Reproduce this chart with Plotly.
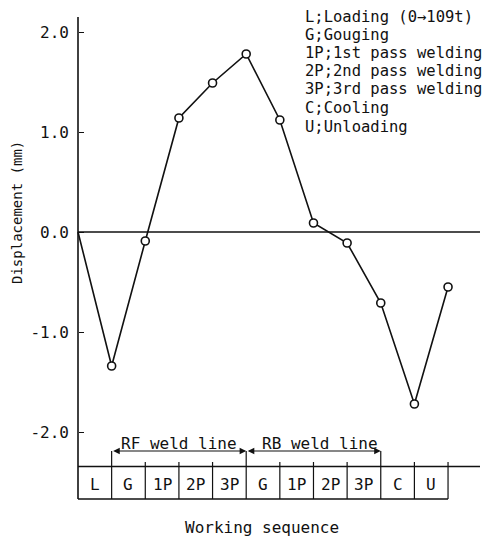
import plotly.graph_objects as go

# ---------------- data ----------------
stages = ["L", "G", "1P", "2P", "3P", "G", "1P", "2P", "3P", "C", "U"]
displacement = [0.0, -1.34, -0.09, 1.14, 1.49, 1.78, 1.12, 0.09, -0.11, -0.71, -1.72, -0.55]
ytick_vals = [-2.0, -1.0, 0.0, 1.0, 2.0]
ytick_text = ["-2.0", "-1.0", "0.0", "1.0", "2.0"]
legend_lines = [
    "L;Loading (0→109t)",
    "G;Gouging",
    "1P;1st pass welding",
    "2P;2nd pass welding",
    "3P;3rd pass welding",
    "C;Cooling",
    "U;Unloading",
]
weld_lines = ["RF weld line", "RB weld line"]
weld_spans = [(1, 5), (5, 9)]

boundaries = list(range(len(stages) + 1))

# ---------------- layout geometry ----------------
W, H = 497, 541
ML, MR, MT, MB = 68, 7, 10, 30
AX_PX = 78          # pixel of x = 0
ZERO_PX = 232       # pixel of y = 0
XS = 33.64          # px per stage
YS = 100.0          # px per mm
plot_w = W - ML - MR
plot_h = H - MT - MB
x_min = -(AX_PX - ML) / XS
x_max = (W - MR - AX_PX) / XS
y_max = (ZERO_PX - MT) / YS
y_min = (ZERO_PX - (H - MB)) / YS


def xd(px):
    return (px - AX_PX) / XS


def yd(py):
    return (ZERO_PX - py) / YS


FONT = "DejaVu Sans Mono"
INK = "#111111"

fig = go.Figure()
fig.add_trace(go.Scatter(
    x=boundaries, y=displacement, mode="lines",
    line=dict(color=INK, width=1.6), hoverinfo="skip", showlegend=False))
fig.add_trace(go.Scatter(
    x=boundaries[1:], y=displacement[1:], mode="markers",
    marker=dict(symbol="circle", size=8, color="white",
                line=dict(color=INK, width=1.6)),
    showlegend=False))

shapes = []
y_top_axis = yd(17)
y_table_top = yd(466.5)
y_table_bot = yd(499)
y_tick_top = yd(462)
y_bracket = yd(451)
x_right = xd(480)

# y axis line
shapes.append(dict(type="line", x0=0, x1=0, y0=y_top_axis, y1=y_table_bot,
                   line=dict(color=INK, width=1.6)))
# zero line
shapes.append(dict(type="line", x0=0, x1=x_right, y0=0, y1=0,
                   line=dict(color=INK, width=1.6)))
# table top and bottom lines
shapes.append(dict(type="line", x0=0, x1=x_right, y0=y_table_top, y1=y_table_top,
                   line=dict(color=INK, width=1.4)))
shapes.append(dict(type="line", x0=0, x1=boundaries[-1], y0=y_table_bot, y1=y_table_bot,
                   line=dict(color=INK, width=1.4)))
bracket_ends = set(b for span in weld_spans for b in span)
for b in boundaries[1:]:
    top = y_bracket if b in bracket_ends else y_tick_top
    shapes.append(dict(type="line", x0=b, x1=b, y0=top, y1=y_table_bot,
                       line=dict(color=INK, width=1.2)))

annotations = []
# weld line brackets
for (a, b), label, dx in zip(weld_spans, weld_lines, [0.0, 0.2]):
    annotations.append(dict(x=b, y=y_bracket, ax=a, ay=y_bracket, xref="x", yref="y",
                            axref="x", ayref="y", text="", showarrow=True,
                            arrowside="end+start", arrowhead=2, arrowsize=1.2,
                            arrowwidth=1.1, arrowcolor=INK, standoff=0, startstandoff=0))
    annotations.append(dict(x=(a + b) / 2 + dx, y=yd(443), xref="x", yref="y",
                            text=label, showarrow=False, xanchor="center", yanchor="middle",
                            font=dict(family=FONT, size=16, color=INK)))
# table cell labels
for i, s in enumerate(stages):
    annotations.append(dict(x=i + 0.5, y=yd(484), xref="x", yref="y", text=s,
                            showarrow=False, xanchor="center", yanchor="middle",
                            font=dict(family=FONT, size=16, color=INK)))
# legend text
legend_y_px = [17, 35, 53, 71, 89, 108, 127]
for line, py in zip(legend_lines, legend_y_px):
    annotations.append(dict(x=xd(304), y=yd(py), xref="x", yref="y", text=line,
                            showarrow=False, xanchor="left", yanchor="middle",
                            borderpad=0,
                            font=dict(family=FONT, size=15.5, color=INK)))
# axis titles
annotations.append(dict(x=(17 - ML) / plot_w, y=(H - MB - 213) / plot_h, xref="paper", yref="paper",
                        text="Displacement (mm)", textangle=-90, showarrow=False,
                        xanchor="center", yanchor="middle",
                        font=dict(family=FONT, size=14, color=INK)))
annotations.append(dict(x=(262 - ML) / plot_w, y=(H - MB - 527) / plot_h, xref="paper", yref="paper",
                        text="Working sequence", showarrow=False,
                        xanchor="center", yanchor="middle",
                        font=dict(family=FONT, size=16, color=INK)))

fig.update_layout(
    width=W, height=H,
    margin=dict(l=ML, r=MR, t=MT, b=MB),
    paper_bgcolor="white", plot_bgcolor="white",
    xaxis=dict(range=[x_min, x_max], visible=False, showgrid=False, zeroline=False),
    yaxis=dict(range=[y_min, y_max], anchor="free", position=(AX_PX - ML) / plot_w,
               showline=False, showgrid=False, zeroline=False,
               ticks="inside", ticklen=5, tickwidth=1.4, tickcolor=INK,
               tickvals=ytick_vals, ticktext=ytick_text, ticklabelstandoff=9,
               tickfont=dict(family=FONT, size=16, color=INK)),
    shapes=shapes,
    annotations=annotations,
    showlegend=False,
)

fig.write_html("out.html")
